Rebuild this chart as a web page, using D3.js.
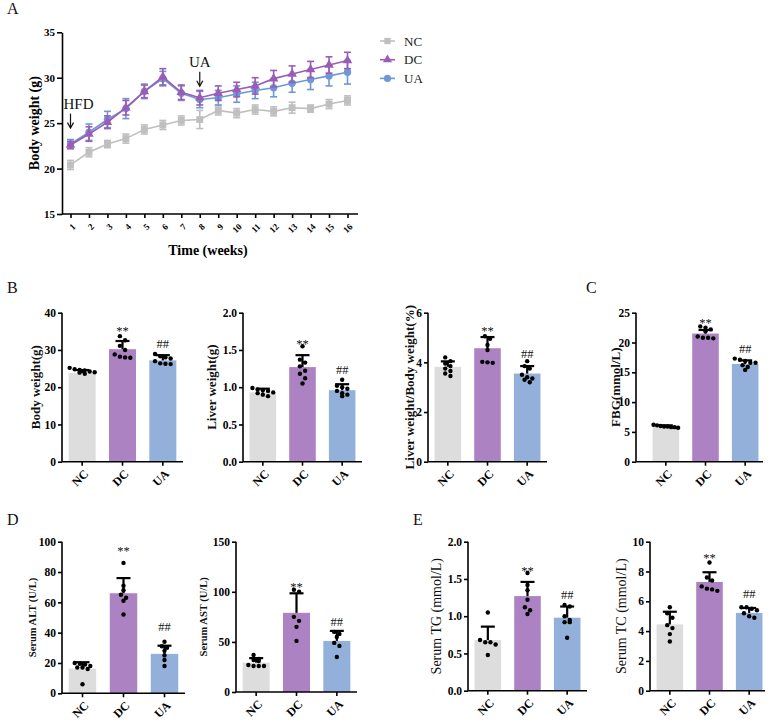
<!DOCTYPE html>
<html>
<head>
<meta charset="utf-8">
<script src="https://cdn.jsdelivr.net/npm/d3@7/dist/d3.min.js"></script>
<style>
  body { margin: 0; background: #fff; }
  svg { display: block; font-family: "Liberation Serif", "Times New Roman", serif; }
</style>
</head>
<body>
<svg id="fig" width="772" height="720"></svg>
<script>
// ---- data ----
const groups = ['NC', 'DC', 'UA'];

// A: body weight over time
const weeks = [1, 2, 3, 4, 5, 6, 7, 8, 9, 10, 11, 12, 13, 14, 15, 16];
const ncWeight = [20.4, 21.8, 22.7, 23.3, 24.3, 24.8, 25.3, 25.4, 26.4, 26.1, 26.5, 26.3, 26.7, 26.6, 27.1, 27.5];
const ncWeightSd = [0.5, 0.5, 0.4, 0.5, 0.5, 0.5, 0.5, 1.0, 0.5, 0.5, 0.5, 0.5, 0.6, 0.4, 0.5, 0.5];
const dcWeight = [22.6, 23.8, 25.1, 26.7, 28.5, 30.1, 28.4, 27.8, 28.3, 28.7, 29.1, 29.9, 30.4, 30.9, 31.4, 31.9];
const dcWeightSd = [0.4, 0.8, 0.7, 0.8, 0.7, 0.9, 0.8, 0.8, 0.8, 0.8, 0.9, 0.9, 0.9, 0.9, 0.9, 0.9];
const uaWeight = [22.7, 24.0, 25.4, 26.6, 28.5, 29.9, 28.3, 27.6, 27.8, 28.2, 28.6, 28.9, 29.4, 29.8, 30.2, 30.6];
const uaWeightSd = [0.5, 0.9, 0.9, 1.1, 0.8, 0.8, 0.8, 0.9, 0.8, 0.9, 0.9, 1.0, 1.0, 1.1, 1.1, 1.3];

// B: body weight, liver weight, ratio
const bwMean = [23.8, 30.2, 27.2];
const bwSd = [0.8, 2.2, 1.4];
const bwDots = [
  [25.2, 24.8, 24.6, 24.5, 24.2, 24.0, 23.9, 23.6],
  [33.7, 32.6, 31.1, 28.8, 28.0, 27.9, 28.2, 30.0],
  [28.9, 28.3, 28.0, 27.7, 27.0, 26.4, 26.3, 26.2]
];
const bwSig = [36.2, 31.6];

const lwMean = [0.93, 1.27, 0.96];
const lwSd = [0.05, 0.16, 0.08];
const lwDots = [
  [0.99, 0.97, 0.96, 0.95, 0.93, 0.92, 0.90, 0.88],
  [1.55, 1.37, 1.33, 1.28, 1.22, 1.18, 1.12, 1.05],
  [1.10, 1.02, 1.00, 0.98, 0.95, 0.92, 0.90, 0.88]
];
const lwSig = [1.64, 1.23];

const lbMean = [3.82, 4.57, 3.55];
const lbSd = [0.22, 0.45, 0.30];
const lbDots = [
  [4.20, 4.05, 3.95, 3.85, 3.75, 3.65, 3.55, 3.45],
  [5.05, 4.95, 4.70, 4.50, 4.00, 3.98, 4.02],
  [4.05, 3.85, 3.75, 3.50, 3.40, 3.30, 3.20, 3.35]
];
const lbSig = [5.41, 4.35];

// C: fasting blood glucose
const fbgMean = [5.9, 21.5, 16.4];
const fbgSd = [0.2, 0.6, 0.6];
const fbgDots = [
  [6.2, 6.1, 6.0, 5.9, 5.9, 5.8, 5.8, 5.7],
  [22.7, 22.5, 22.2, 21.9, 20.8, 20.7, 20.8, 21.0],
  [17.3, 17.1, 16.9, 16.6, 16.2, 15.9, 15.4, 16.6]
];
const fbgSig = [23.9, 18.9];

// D: liver enzymes
const altMean = [16.3, 66, 26];
const altSd = [4.2, 10, 5.4];
const altDots = [
  [20, 19.5, 19, 18, 17, 17, 16, 6],
  [86, 71, 68, 65, 63, 61, 52],
  [34, 31, 30, 28, 25, 22, 18]
];
const altSig = [96.7, 43.9];

const astMean = [29.3, 79, 51];
const astSd = [4.5, 19.5, 10];
const astDots = [
  [37, 33, 32, 31, 27, 26, 26, 26],
  [102, 100, 75, 71, 65, 51],
  [60, 58, 55, 49, 46, 35]
];
const astSig = [108.7, 70.3];

// E: serum lipids
const tgMean = [0.68, 1.27, 0.98];
const tgSd = [0.18, 0.19, 0.15];
const tgDots = [
  [1.05, 0.68, 0.65, 0.65, 0.62, 0.48],
  [1.58, 1.42, 1.35, 1.22, 1.12, 1.08, 1.03],
  [1.15, 1.13, 1.00, 0.95, 0.92, 0.92, 0.71]
];
const tgSig = [1.66, 1.28];

const tcMean = [4.45, 7.3, 5.22];
const tcSd = [0.85, 0.65, 0.33];
const tcDots = [
  [5.6, 5.2, 4.9, 4.4, 4.2, 3.8, 3.3],
  [8.6, 7.6, 7.4, 7.0, 6.85, 6.8, 6.7],
  [5.6, 5.6, 5.5, 5.4, 5.2, 5.0, 4.9]
];
const tcSig = [9.2, 6.5];

// ---- styles ----
const barColor = { NC: '#dddddd', DC: '#ad82c2', UA: '#93b0da' };
const lineColor = { NC: '#bfbfbf', DC: '#9b5cb8', UA: '#6c98d6' };
const serif = '"Liberation Serif", "Times New Roman", serif';

const svg = d3.select('#fig');

function styleAxis(sel, size) {
  sel.attr('font-family', serif).attr('font-size', size).attr('font-weight', 'bold');
  sel.selectAll('path, line').attr('stroke', '#000').attr('stroke-width', 1.6);
  sel.selectAll('text').attr('fill', '#000');
}

function panelLetter(txt, x, y) {
  svg.append('text').attr('x', x).attr('y', y)
    .attr('font-size', 16).attr('fill', '#111').text(txt);
}

// ---- A: line chart ----
function lineChart() {
  const x = d3.scalePoint().domain(weeks).range([70.5, 347.5]);
  const y = d3.scaleLinear().domain([15, 35]).range([214, 32.3]);
  const g = svg.append('g');

  const ya = g.append('g').attr('transform', 'translate(62,0)')
    .call(d3.axisLeft(y).tickValues([15, 20, 25, 30, 35]).tickSize(5).tickPadding(2).tickSizeOuter(0));
  styleAxis(ya, 11);

  const xa = g.append('g').attr('transform', `translate(0,${y(15)})`)
    .call(d3.axisBottom(x).tickSize(4).tickSizeOuter(0));
  styleAxis(xa, 9);
  xa.select('.domain').attr('d', 'M62,0H358');
  xa.selectAll('.tick text')
    .attr('x', 0).attr('y', 0).attr('dy', '0.35em')
    .attr('text-anchor', 'end')
    .attr('transform', 'translate(3,11) rotate(-45)');

  g.append('text').attr('x', 208).attr('y', 255)
    .attr('text-anchor', 'middle').attr('font-size', 14).attr('font-weight', 'bold')
    .text('Time (weeks)');
  g.append('text').attr('transform', `translate(39,${y(25)}) rotate(-90)`)
    .attr('text-anchor', 'middle').attr('font-size', 14).attr('font-weight', 'bold')
    .text('Body weight (g)');

  const series = [
    { key: 'NC', mean: ncWeight, sd: ncWeightSd, shape: d3.symbolSquare, size: 48 },
    { key: 'UA', mean: uaWeight, sd: uaWeightSd, shape: d3.symbolCircle, size: 42 },
    { key: 'DC', mean: dcWeight, sd: dcWeightSd, shape: d3.symbolTriangle, size: 40 }
  ];

  const line = d3.line().x((d, i) => x(weeks[i])).y(d => y(d));

  series.forEach(s => {
    const c = lineColor[s.key];
    const sg = g.append('g');
    sg.append('path').attr('d', line(s.mean)).attr('fill', 'none')
      .attr('stroke', c).attr('stroke-width', 1.6);
    const eb = sg.selectAll('g.eb').data(s.mean).join('g');
    eb.append('line')
      .attr('x1', (d, i) => x(weeks[i])).attr('x2', (d, i) => x(weeks[i]))
      .attr('y1', (d, i) => y(d - s.sd[i])).attr('y2', (d, i) => y(d + s.sd[i]))
      .attr('stroke', c).attr('stroke-width', 1.6);
    [-1, 1].forEach(sign => {
      eb.append('line')
        .attr('x1', (d, i) => x(weeks[i]) - 3.5).attr('x2', (d, i) => x(weeks[i]) + 3.5)
        .attr('y1', (d, i) => y(d + sign * s.sd[i])).attr('y2', (d, i) => y(d + sign * s.sd[i]))
        .attr('stroke', c).attr('stroke-width', 1.6);
    });
    sg.selectAll('path.mk').data(s.mean).join('path').attr('class', 'mk')
      .attr('d', d3.symbol().type(s.shape).size(s.size))
      .attr('transform', (d, i) => `translate(${x(weeks[i])},${y(d)})`)
      .attr('fill', c);
  });

  // annotations: HFD at week 1, UA at week 8
  const notes = [
    { label: 'HFD', week: 1, dx: 8, top: 26.6 },
    { label: 'UA', week: 8, dx: 0, top: 31.2 }
  ];
  notes.forEach(n => {
    const xx = x(n.week);
    const yt = y(n.top);
    g.append('text').attr('x', xx + n.dx).attr('y', yt)
      .attr('text-anchor', 'middle').attr('font-size', 15).attr('fill', '#111').text(n.label);
    g.append('path').attr('d', `M${xx},${yt + 5}V${yt + 19}`)
      .attr('stroke', '#111').attr('stroke-width', 1.2);
    g.append('path').attr('d', `M${xx - 3},${yt + 14}L${xx},${yt + 19.5}L${xx + 3},${yt + 14}`)
      .attr('stroke', '#111').attr('stroke-width', 1.2).attr('fill', 'none');
  });

  // legend
  const lg = g.append('g');
  const legendOrder = [
    { key: 'NC', shape: d3.symbolSquare, size: 40 },
    { key: 'DC', shape: d3.symbolTriangle, size: 36 },
    { key: 'UA', shape: d3.symbolCircle, size: 40 }
  ];
  legendOrder.forEach((d, i) => {
    const yy = 41 + i * 18.7;
    lg.append('line').attr('x1', 380).attr('x2', 395).attr('y1', yy).attr('y2', yy)
      .attr('stroke', lineColor[d.key]).attr('stroke-width', 1.6);
    lg.append('path').attr('d', d3.symbol().type(d.shape).size(d.size)())
      .attr('transform', `translate(387.5,${yy})`).attr('fill', lineColor[d.key]);
    lg.append('text').attr('x', 404).attr('y', yy + 4.5)
      .attr('font-size', 13).attr('fill', '#222').text(d.key);
  });
}

// ---- bar panels ----
function barPanel(p) {
  const x = d3.scaleBand().domain(groups).range(p.band).paddingInner(0.33).paddingOuter(0.165);
  const y = d3.scaleLinear().domain(p.domain).range(p.yRange);
  const g = svg.append('g');
  const cx = d => x(d) + x.bandwidth() / 2;

  g.selectAll('rect').data(groups).join('rect')
    .attr('x', d => x(d)).attr('width', x.bandwidth())
    .attr('y', (d, i) => y(p.mean[i]))
    .attr('height', (d, i) => y(0) - y(p.mean[i]))
    .attr('fill', d => barColor[d]);

  // error bars (upper only)
  const eb = g.selectAll('g.eb').data(groups).join('g');
  eb.append('line')
    .attr('x1', cx).attr('x2', cx)
    .attr('y1', (d, i) => y(p.mean[i])).attr('y2', (d, i) => y(p.mean[i] + p.sd[i]))
    .attr('stroke', '#000').attr('stroke-width', 2.2);
  eb.append('line')
    .attr('x1', d => cx(d) - 7).attr('x2', d => cx(d) + 7)
    .attr('y1', (d, i) => y(p.mean[i] + p.sd[i])).attr('y2', (d, i) => y(p.mean[i] + p.sd[i]))
    .attr('stroke', '#000').attr('stroke-width', 2.2);

  // dots, spread sideways where values crowd
  groups.forEach((grp, gi) => {
    const pts = p.dots[gi].map(v => ({ v, py: y(v) })).sort((a, b) => a.py - b.py);
    const rows = [];
    pts.forEach(pt => {
      const row = rows.find(r => Math.abs(r[0].py - pt.py) < 4.5);
      if (row) row.push(pt); else rows.push([pt]);
    });
    const out = [];
    rows.forEach(r => {
      const step = Math.min(5.2, (x.bandwidth() - 2) / Math.max(r.length - 1, 1));
      r.forEach((pt, k) => out.push({ px: cx(grp) + (k - (r.length - 1) / 2) * step, py: pt.py }));
    });
    g.append('g').selectAll('circle').data(out).join('circle')
      .attr('cx', d => d.px).attr('cy', d => d.py).attr('r', 2.2).attr('fill', '#000');
  });

  // significance marks
  const sig = [{ t: '**', grp: 'DC', v: p.sig[0], off: 8 }, { t: '##', grp: 'UA', v: p.sig[1], off: 4 }];
  g.selectAll('text.sig').data(sig).join('text').attr('class', 'sig')
    .attr('x', d => cx(d.grp)).attr('y', d => y(d.v) + d.off)
    .attr('text-anchor', 'middle').attr('font-size', 12.5).attr('fill', '#111')
    .text(d => d.t);

  // axes
  const ya = g.append('g').attr('transform', `translate(${p.axisX},0)`)
    .call(d3.axisLeft(y).tickValues(p.ticks).tickFormat(p.fmt).tickSize(4).tickPadding(2).tickSizeOuter(0));
  styleAxis(ya, 11.5);
  ya.select('.domain').attr('d', `M0,${y(p.domain[1])}V${y(0)}`);

  const xa = g.append('g').attr('transform', `translate(0,${y(0)})`)
    .call(d3.axisBottom(x).tickSize(4).tickSizeOuter(0));
  styleAxis(xa, 12);
  xa.select('.domain').attr('d', `M${p.axisX},0H${p.axisEnd}`);
  xa.selectAll('.tick text')
    .attr('x', 0).attr('y', 0).attr('dy', '0.35em')
    .attr('text-anchor', 'end')
    .attr('transform', 'translate(4,10) rotate(-45)');

  g.append('text')
    .attr('transform', `translate(${p.axisX - p.labelOff},${(y(0) + y(p.domain[1])) / 2}) rotate(-90)`)
    .attr('text-anchor', 'middle').attr('font-size', p.labelSize)
    .attr('font-weight', p.labelWeight || 'bold').attr('fill', '#111')
    .text(p.label);
}

panelLetter('A', 7, 14);
lineChart();

panelLetter('B', 7, 293);
barPanel({ axisX: 62, band: [62, 183], axisEnd: 183, yRange: [461.7, 312.7], domain: [0, 40],
  ticks: [0, 10, 20, 30, 40], fmt: d3.format('d'), mean: bwMean, sd: bwSd, dots: bwDots, sig: bwSig,
  label: 'Body weight(g)', labelOff: 22, labelSize: 13 });
barPanel({ axisX: 243, band: [243, 362], axisEnd: 362, yRange: [461.7, 312.7], domain: [0, 2],
  ticks: [0, 0.5, 1, 1.5, 2], fmt: d3.format('.1f'), mean: lwMean, sd: lwSd, dots: lwDots, sig: lwSig,
  label: 'Liver weight(g)', labelOff: 27, labelSize: 13 });
barPanel({ axisX: 428, band: [428, 547], axisEnd: 547, yRange: [461.7, 312.7], domain: [0, 6],
  ticks: [0, 2, 4, 6], fmt: d3.format('d'), mean: lbMean, sd: lbSd, dots: lbDots, sig: lbSig,
  label: 'Liver weight/Body weight(%)', labelOff: 14, labelSize: 13 });

panelLetter('C', 586, 293);
barPanel({ axisX: 636, band: [646, 765], axisEnd: 763, yRange: [461.7, 312.7], domain: [0, 25],
  ticks: [0, 5, 10, 15, 20, 25], fmt: d3.format('d'), mean: fbgMean, sd: fbgSd, dots: fbgDots, sig: fbgSig,
  label: 'FBG(mmol/L)', labelOff: 16, labelSize: 13 });

panelLetter('D', 7, 525);
barPanel({ axisX: 62, band: [62, 185], axisEnd: 185, yRange: [693.3, 541.7], domain: [0, 100],
  ticks: [0, 20, 40, 60, 80, 100], fmt: d3.format('d'), mean: altMean, sd: altSd, dots: altDots, sig: altSig,
  label: 'Serum ALT (U/L)', labelOff: 26, labelSize: 10.5 });
barPanel({ axisX: 236, band: [236, 357], axisEnd: 357, yRange: [692, 541.7], domain: [0, 150],
  ticks: [0, 50, 100, 150], fmt: d3.format('d'), mean: astMean, sd: astSd, dots: astDots, sig: astSig,
  label: 'Serum AST (U/L)', labelOff: 29, labelSize: 10.5 });

panelLetter('E', 413, 525);
barPanel({ axisX: 468, band: [468, 587], axisEnd: 587, yRange: [690.7, 541.7], domain: [0, 2],
  ticks: [0, 0.5, 1, 1.5, 2], fmt: d3.format('.1f'), mean: tgMean, sd: tgSd, dots: tgDots, sig: tgSig,
  label: 'Serum TG (mmol/L)', labelOff: 27, labelSize: 14, labelWeight: 'normal' });
barPanel({ axisX: 650, band: [650, 769], axisEnd: 765, yRange: [690.7, 541.7], domain: [0, 10],
  ticks: [0, 2, 4, 6, 8, 10], fmt: d3.format('d'), mean: tcMean, sd: tcSd, dots: tcDots, sig: tcSig,
  label: 'Serum TC (mmol/L)', labelOff: 24, labelSize: 14, labelWeight: 'normal' });
</script>
</body>
</html>
